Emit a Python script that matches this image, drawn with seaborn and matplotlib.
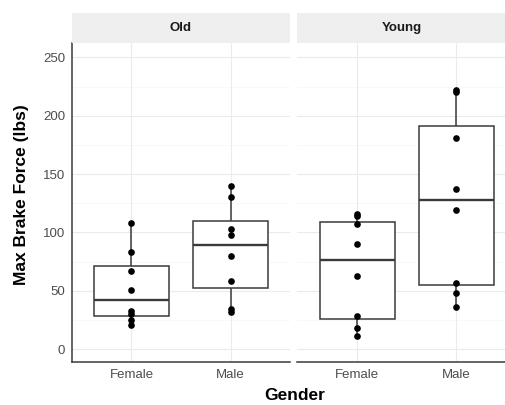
import matplotlib
matplotlib.use("Agg")
import matplotlib.pyplot as plt
import seaborn as sns
import pandas as pd

# DATA
ages = ["Old", "Young"]
genders = ["Female", "Male"]
old_female = [21, 25, 30, 33, 51, 67, 83, 108]
old_male = [32, 34, 58, 80, 98, 103, 130, 140]
young_female = [11, 18, 28, 63, 90, 107, 114, 116]
young_male = [36, 48, 57, 119, 137, 181, 220, 222]
y_ticks = [0, 50, 100, 150, 200, 250]

rows = []
for age, gender, vals in [
    ("Old", "Female", old_female),
    ("Old", "Male", old_male),
    ("Young", "Female", young_female),
    ("Young", "Male", young_male),
]:
    for v in vals:
        rows.append({"Age": age, "Gender": gender, "Force": v})
df = pd.DataFrame(rows)

sns.set_style("white")
plt.rcParams["font.family"] = ["Liberation Sans", "DejaVu Sans"]

W, H = 506, 405
fig = plt.figure(figsize=(W / 100, H / 100), dpi=100)

# panel boxes in pixels: left, right
panels = {"Old": (72, 290), "Young": (297, 506)}
top_px, bottom_px = 43, 362
strip_top = 13
xlims = {"Old": (-0.6, 1.6), "Young": (-0.61, 1.5)}

grid_col = "#ebebeb"
edge_col = "#3a3a3a"

for i, age in enumerate(ages):
    l, r = panels[age]
    ax = fig.add_axes([l / W, 1 - bottom_px / H, (r - l) / W, (bottom_px - top_px) / H])
    sub = df[df["Age"] == age]

    # grid
    for yv in range(0, 275, 25):
        ax.axhline(yv, color=grid_col if yv % 50 == 0 else "#f5f5f5",
                   lw=0.8 if yv % 50 == 0 else 0.5, zorder=0)
    for xv in range(len(genders)):
        ax.axvline(xv, color=grid_col, lw=0.8, zorder=0)

    sns.boxplot(
        data=sub, x="Gender", y="Force", order=genders,
        width=0.75, color="white", linecolor=edge_col, linewidth=1.1,
        showcaps=False, fliersize=0,
        medianprops=dict(linewidth=1.7, color=edge_col),
        ax=ax, zorder=2,
    )
    sns.stripplot(
        data=sub, x="Gender", y="Force", order=genders,
        jitter=False, color="black", size=4.8, ax=ax, zorder=3,
    )

    ax.set_xlim(*xlims[age])
    ax.set_ylim(-11.1, 262.3)
    ax.set_xlabel("")
    ax.set_ylabel("")
    ax.set_yticks(y_ticks)
    ax.tick_params(axis="x", length=3, width=0.8, color=edge_col,
                   labelsize=9.5, labelcolor="#4d4d4d", pad=2)
    ax.tick_params(axis="y", length=3, width=0.8, color=edge_col,
                   labelsize=9.5, labelcolor="#4d4d4d", pad=2)
    for s in ["top", "right"]:
        ax.spines[s].set_visible(False)
    ax.spines["bottom"].set_color(edge_col)
    ax.spines["bottom"].set_linewidth(1.1)
    if i == 0:
        ax.spines["left"].set_color(edge_col)
        ax.spines["left"].set_linewidth(1.1)
    else:
        ax.spines["left"].set_visible(False)
        ax.tick_params(axis="y", left=False, labelleft=False)

    # strip
    sax = fig.add_axes([l / W, 1 - top_px / H, (r - l) / W, (top_px - strip_top) / H])
    sax.set_facecolor("#efefef")
    sax.set_xticks([])
    sax.set_yticks([])
    for s in sax.spines.values():
        s.set_visible(False)
    sax.text(0.5, 0.5, age, ha="center", va="center", fontsize=9.5,
             fontweight="bold", color="#1a1a1a", transform=sax.transAxes)

fig.text(295 / W, 1 - 396 / H, "Gender", ha="center", va="center",
         fontsize=12.5, fontweight="bold", color="black")
fig.text(22 / W, 1 - 195 / H, "Max Brake Force (lbs)", ha="center", va="center",
         rotation=90, fontsize=12.5, fontweight="bold", color="black")

plt.savefig("out.png", dpi=100)
plt.close()
